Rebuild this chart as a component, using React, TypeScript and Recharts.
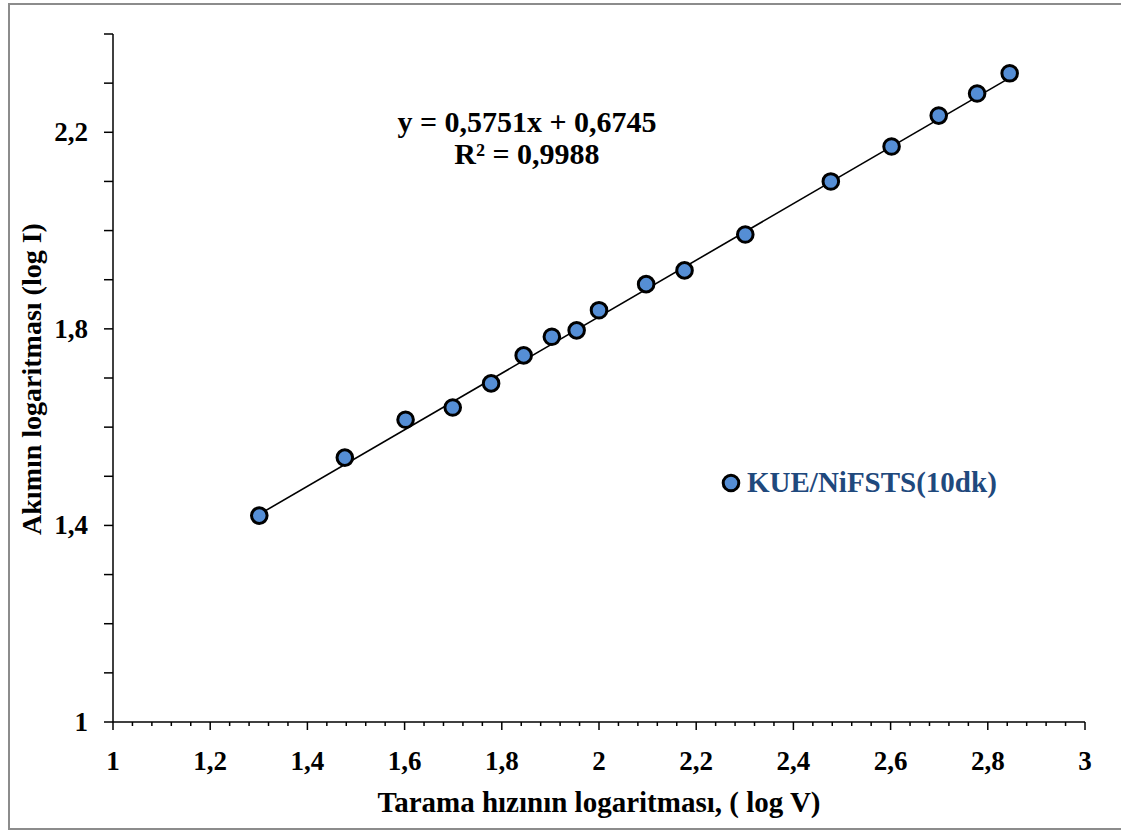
import {
  ComposedChart,
  Label,
  Legend,
  Line,
  Scatter,
  XAxis,
  YAxis,
} from "recharts";

// log of scan rate (x) and log of peak current (y)
const logScanRate = [
  1.301, 1.477, 1.602, 1.699, 1.778, 1.845, 1.903, 1.954, 2.0, 2.097, 2.176,
  2.301, 2.477, 2.602, 2.699, 2.778, 2.845,
];
const logCurrent = [
  1.42, 1.538, 1.615, 1.64, 1.689, 1.746, 1.784, 1.797, 1.838, 1.891, 1.919,
  1.992, 2.1, 2.171, 2.234, 2.279, 2.32,
];

const seriesName = "KUE/NiFSTS(10dk)";
const slope = 0.5751;
const intercept = 0.6745;
const rSquared = "0,9988";

const xMajorTicks = [1, 1.2, 1.4, 1.6, 1.8, 2, 2.2, 2.4, 2.6, 2.8, 3];
const yMajorTicks = [1, 1.4, 1.8, 2.2];

const FONT = "'Liberation Serif', 'Times New Roman', Times, serif";

const stepTicks = (from: number, to: number, step: number) => {
  const out: number[] = [];
  for (let v = from; v <= to + 1e-9; v += step) out.push(Math.round(v * 100) / 100);
  return out;
};
const xTicks = stepTicks(1, 3, 0.04);
const yTicks = stepTicks(1, 2.4, 0.1);

const isMajor = (v: number, majors: number[]) =>
  majors.some((m) => Math.abs(m - v) < 1e-6);
const fmt = (v: number) => String(v).replace(".", ",");

const points = logScanRate.map((x, i) => ({ x, y: logCurrent[i] }));
const xFirst = logScanRate[0];
const xLast = logScanRate[logScanRate.length - 1];
const trend = [
  { x: xFirst, y: slope * xFirst + intercept },
  { x: xLast, y: slope * xLast + intercept },
];

const textStyle = { fontFamily: FONT, fontWeight: 700 } as const;

const XTick = ({ x, y, payload }: any) => {
  const major = isMajor(payload.value, xMajorTicks);
  return (
    <g>
      <line x1={x} x2={x} y1={y} y2={y + (major ? 8 : 4)} stroke="#000" strokeWidth={1.5} />
      {major && (
        <text x={x} y={y + 48} textAnchor="middle" style={{ ...textStyle, fontSize: 27 }} fill="#000">
          {fmt(payload.value)}
        </text>
      )}
    </g>
  );
};

const YTick = ({ x, y, payload }: any) => {
  const major = isMajor(payload.value, yMajorTicks);
  return (
    <g>
      <line x1={x - 9} x2={x} y1={y} y2={y} stroke="#000" strokeWidth={1.5} />
      {major && (
        <text x={x - 25} y={y + 9} textAnchor="end" style={{ ...textStyle, fontSize: 27 }} fill="#000">
          {fmt(payload.value)}
        </text>
      )}
    </g>
  );
};

const Marker = ({ cx, cy }: any) => (
  <circle cx={cx} cy={cy} r={7.8} fill="#558ed5" stroke="#000" strokeWidth={3} />
);

const LegendBox = ({ payload }: any) => (
  <div style={{ display: "flex", alignItems: "center" }}>
    {(payload || [])
      .filter((p: any) => p.type !== "none")
      .map((p: any) => (
        <div key={p.value} style={{ display: "flex", alignItems: "center" }}>
          <svg width={20} height={20}>
            <circle cx={10} cy={10} r={7.8} fill="#558ed5" stroke="#000" strokeWidth={3} />
          </svg>
          <span
            style={{
              ...textStyle,
              marginLeft: 6,
              fontSize: 29,
              color: "#1f497d",
              whiteSpace: "nowrap",
            }}
          >
            {p.value}
          </span>
        </div>
      ))}
  </div>
);

export default function App() {
  return (
    <div style={{ position: "absolute", left: 0, top: 0, width: 1121, height: 834, background: "#fff" }}>
      <div
        style={{
          position: "absolute",
          left: 8,
          top: 3,
          width: 1121,
          height: 827,
          borderLeft: "2px solid #8c8c8c",
          borderTop: "2px solid #8c8c8c",
          borderBottom: "2px solid #8c8c8c",
          boxSizing: "border-box",
        }}
      />
      <ComposedChart
        width={1121}
        height={834}
        margin={{ top: 34, right: 36, bottom: 0, left: 0 }}
        style={{ position: "absolute", left: 0, top: 0 }}
      >
        <XAxis
          type="number"
          dataKey="x"
          domain={[1, 3]}
          ticks={xTicks}
          interval={0}
          height={112}
          tickLine={false}
          tickSize={0}
          tickMargin={0}
          tick={<XTick />}
          axisLine={{ stroke: "#000", strokeWidth: 1.5 }}
          allowDataOverflow
        >
          <Label
            content={() => (
              <text x={599} y={812} textAnchor="middle" style={{ ...textStyle, fontSize: 29 }} fill="#000">
                Tarama hızının logaritması, ( log V)
              </text>
            )}
          />
        </XAxis>
        <YAxis
          type="number"
          domain={[1, 2.4]}
          ticks={yTicks}
          interval={0}
          width={113}
          tickLine={false}
          tickSize={0}
          tickMargin={0}
          tick={<YTick />}
          axisLine={{ stroke: "#000", strokeWidth: 1.5 }}
          allowDataOverflow
        >
          <Label
            content={() => (
              <text
                x={41}
                y={379}
                transform="rotate(-90, 41, 379)"
                textAnchor="middle"
                style={{ ...textStyle, fontSize: 28 }}
                fill="#000"
              >
                Akımın logaritması  (log I)
              </text>
            )}
          />
        </YAxis>
        <Legend
          layout="horizontal"
          verticalAlign="middle"
          align="center"
          content={<LegendBox />}
          wrapperStyle={{ position: "absolute", left: 721, top: 466, width: 320 }}
        />
        <Scatter
          name={seriesName}
          data={points}
          dataKey="y"
          shape={<Marker />}
          isAnimationActive={false}
        />
        <Line
          data={trend}
          dataKey="y"
          type="linear"
          stroke="#000"
          strokeWidth={1.6}
          dot={false}
          activeDot={false}
          legendType="none"
          isAnimationActive={false}
        />
        <g style={{ ...textStyle, fontSize: 30 }} fill="#000" textAnchor="middle">
          <text x={527} y={132}>
            {`y = ${fmt(slope)}x + ${fmt(intercept)}`}
          </text>
          <text x={527} y={164}>
            {`R² = ${rSquared}`}
          </text>
        </g>
      </ComposedChart>
    </div>
  );
}
